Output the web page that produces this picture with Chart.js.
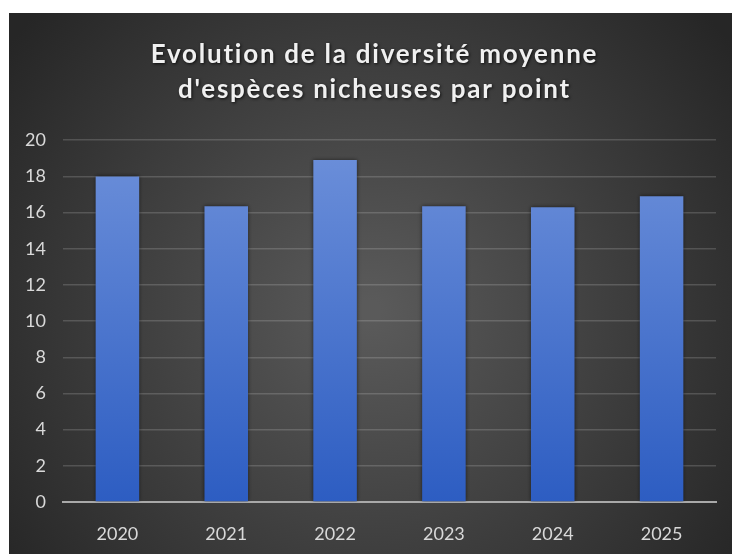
<!DOCTYPE html>
<html>
<head>
<meta charset="utf-8">
<script src="https://cdn.jsdelivr.net/npm/chart.js@4/dist/chart.umd.min.js"></script>
<style>
  html, body { margin: 0; padding: 0; background: #ffffff; }
  #wrap { position: absolute; left: 9px; top: 13px; width: 723px; height: 541px; }
</style>
</head>
<body>
<div id="wrap"><canvas id="grafico" width="723" height="541"></canvas></div>
<script>
// donnees
const annees = ["2020", "2021", "2022", "2023", "2024", "2025"];
const diversite = [18.0, 16.35, 18.9, 16.35, 16.3, 16.9];
const titre = ["Evolution de la diversité moyenne", "d'espèces nicheuses par point"];
const yMin = 0;
const yMax = 20;
const yPas = 2;

// fond gris degrade + ombre sur les barres + titre espace
const fondPlugin = {
    id: "fond",
    beforeDraw(chart) {
        const ctx = chart.ctx;
        const w = chart.width, h = chart.height;
        const g = ctx.createRadialGradient(w * 0.5, h * 0.55, 10, w * 0.5, h * 0.55, w * 0.62);
        g.addColorStop(0, "#5a5a5a");
        g.addColorStop(1, "#262626");
        ctx.save();
        ctx.fillStyle = g;
        ctx.fillRect(0, 0, w, h);
        ctx.restore();

        // petit hack pour espacer les lettres du titre
        const tb = chart.titleBlock;
        if (tb && !tb._patche) {
            const orig = tb.draw;
            tb.draw = function() {
                const c = this.ctx;
                c.save();
                c.translate(12, 0);
                c.letterSpacing = "1.75px";
                c.shadowColor = "rgba(0,0,0,0.75)";
                c.shadowBlur = 3;
                c.shadowOffsetX = 1;
                c.shadowOffsetY = 1;
                orig.apply(this, arguments);
                c.restore();
            };
            tb._patche = true;
        }
    },
    beforeDatasetsDraw(chart) {
        const ctx = chart.ctx;
        ctx.save();
        ctx.shadowColor = "rgba(0,0,0,0.55)";
        ctx.shadowBlur = 4;
        ctx.shadowOffsetX = 0;
        ctx.shadowOffsetY = 0;
    },
    afterDatasetsDraw(chart) {
        chart.ctx.restore();
    }
};

function couleurBarre(context) {
    const chart = context.chart;
    const area = chart.chartArea;
    if (!area) return "#4a74cf";
    const g = chart.ctx.createLinearGradient(0, area.top, 0, area.bottom);
    g.addColorStop(0, "#6d90da");
    g.addColorStop(1, "#2d5dc2");
    return g;
}

let g = document.getElementById("grafico").getContext("2d");

let graficoChart = new Chart(g, {
    type: "bar",
    data: {
        labels: annees,
        datasets: [{
            label: "Diversité moyenne",
            data: diversite,
            backgroundColor: couleurBarre,
            borderWidth: 0,
            categoryPercentage: 1.0,
            barPercentage: 0.4
        }]
    },
    options: {
        responsive: false,
        animation: false,
        layout: { padding: { left: 0, right: 16, top: 0, bottom: 0 } },
        plugins: {
            legend: { display: false },
            tooltip: { enabled: false },
            title: {
                display: true,
                text: titre,
                color: "#f0f0f0",
                font: { family: "Lato", size: 26, weight: "bold", lineHeight: 1.35 },
                padding: { top: 24, bottom: 33 }
            }
        },
        scales: {
            x: {
                grid: { display: false, drawTicks: false },
                border: { display: true, color: "#a9a9a9", width: 2 },
                ticks: {
                    color: "#d9d9d9",
                    font: { family: "Lato", size: 18 },
                    padding: 21
                },
                afterFit(scale) { scale.height = 52; }
            },
            y: {
                min: yMin,
                max: yMax,
                grid: {
                    color: "rgba(255,255,255,0.16)",
                    lineWidth: 1.5,
                    drawTicks: false
                },
                border: { display: false },
                ticks: {
                    stepSize: yPas,
                    color: "#d9d9d9",
                    font: { family: "Lato", size: 18 },
                    padding: 17
                },
                afterFit(scale) { scale.width = 54; }
            }
        }
    },
    plugins: [fondPlugin]
});
graficoChart.draw();
</script>
</body>
</html>
